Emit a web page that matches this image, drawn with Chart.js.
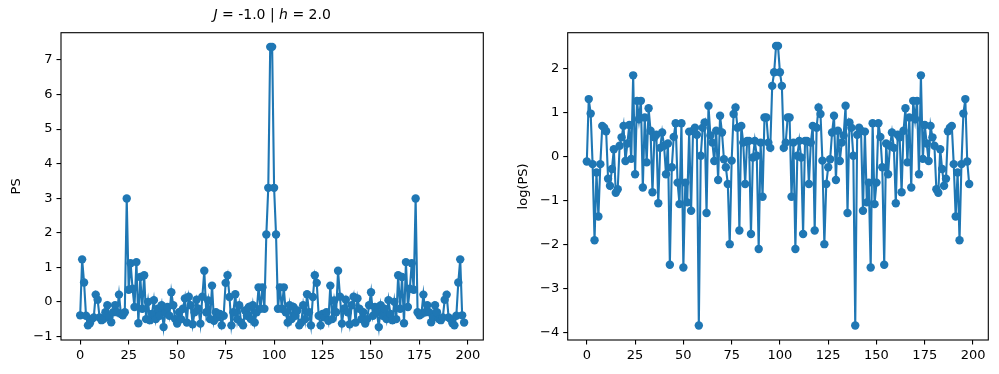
<!DOCTYPE html>
<html>
<head>
<meta charset="utf-8">
<script src="https://cdn.jsdelivr.net/npm/chart.js@4.4.0/dist/chart.umd.min.js"></script>
<style>
  html, body { margin: 0; padding: 0; background: #fff; }
  #wrap { position: relative; width: 999px; height: 374px; }
  canvas { position: absolute; top: 0; }
</style>
</head>
<body>
<div id="wrap">
  <canvas id="psChart" width="500" height="374" style="left:0px"></canvas>
  <canvas id="logChart" width="499" height="374" style="left:500px"></canvas>
</div>
<script>
const xTicks = [0, 25, 50, 75, 100, 125, 150, 175, 200];
const psTicks = [-1, 0, 1, 2, 3, 4, 5, 6, 7];
const logTicks = [-4, -3, -2, -1, 0, 1, 2];

// PS, index 0..198
const psValues = [
  -0.39, 1.23, 0.56, -0.4, -0.68, -0.62, -0.5, -0.45, 0.21, 0.06,
  -0.45, -0.53, -0.5, -0.3, -0.1, -0.45, -0.59, -0.3, -0.1, -0.3,
  0.21, -0.35, -0.39, -0.3, 2.99, 0.35, 1.12, 0.38, -0.15, 1.15,
  -0.62, 0.72, -0.2, 0.77, -0.5, 0.0, -0.53, -0.35, 0.05, -0.5,
  -0.2, -0.4, -0.1, -0.73, -0.3, -0.15, -0.4, 0.28, -0.1, -0.5,
  -0.63, -0.3, -0.5, -0.2, 0.1, -0.6, 0.15, -0.1, -0.65, -0.3,
  0.06, -0.2, -0.63, 0.15, 0.9, -0.3, 0.04, -0.5, 0.47, -0.55,
  -0.3, -0.45, -0.35, -0.68, -0.4, 0.55, 0.77, 0.14, -0.68, -0.3,
  0.22, -0.5, -0.1, -0.6, -0.68, -0.25, -0.4, -0.15, -0.5, -0.1,
  -0.6, -0.3, 0.42, -0.2, 0.42, -0.2, 1.95, 3.3, 7.38,
  7.38, 3.3, 1.95, -0.2, 0.42, -0.2, 0.42, -0.3, -0.6,
  -0.1, -0.5, -0.15, -0.4, -0.25, -0.68, -0.6, -0.1, -0.5, 0.22,
  -0.3, -0.68, 0.14, 0.77, 0.55, -0.4, -0.68, -0.35, -0.45, -0.3,
  -0.55, 0.47, -0.5, 0.04, -0.3, 0.9, 0.15, -0.63, -0.2, 0.06,
  -0.3, -0.65, -0.1, 0.15, -0.6, 0.1, -0.2, -0.5, -0.3, -0.63,
  -0.5, -0.1, 0.28, -0.4, -0.15, -0.3, -0.73, -0.1, -0.4, -0.2,
  -0.5, 0.05, -0.35, -0.53, 0.0, -0.5, 0.77, -0.2, 0.72, -0.62,
  1.15, -0.15, 0.38, 1.12, 0.35, 2.99, -0.3, -0.39, -0.35, 0.21,
  -0.3, -0.1, -0.3, -0.59, -0.45, -0.1, -0.3, -0.5, -0.53, -0.45,
  0.06, 0.21, -0.45, -0.5, -0.62, -0.68, -0.4, 0.56, 1.23, -0.39,
  -0.6
];

// log(PS), index 0..198
const logPsValues = [
  -0.11, 1.31, 0.98, -0.17, -1.9, -0.36, -1.36, -0.17, 0.7, 0.66,
  0.58, -0.5, -0.66, -0.28, 0.17, -0.82, -0.74, 0.25, 0.44, 0.7,
  -0.1, 0.3, 0.72, -0.05, 1.85, -0.4, 1.27, 0.85, 1.27, -0.7,
  0.89, -0.13, 1.1, 0.59, -0.81, 0.44, 0.5, -1.06, 0.2, 0.55,
  0.25, -0.4, 0.3, -2.46, -0.24, 0.45, 0.76, -0.59, -1.08, 0.76,
  -2.52, -0.59, -1.04, 0.57, -1.23, 0.59, 0.66, 0.5, -3.84, 0.02,
  0.66, 0.78, -1.28, 1.16, 0.48, 0.32, -0.1, 0.59, -0.53, 0.93,
  0.55, -0.06, -0.24, -0.62, -1.99, -0.09, 0.97, 1.12, 0.66, -1.68,
  0.7, 0.32, -0.62, 0.36, 0.36, -1.76, -0.02, 0.36, 0.02, -2.1,
  0.32, -0.91, 0.89, 0.89, 0.32, 0.2, 1.61, 1.92, 2.52,
  2.52, 1.92, 1.61, 0.2, 0.32, 0.89, 0.89, -0.91, 0.32,
  -2.1, 0.02, 0.36, -0.02, -1.76, 0.36, 0.36, -0.62, 0.32, 0.7,
  -1.68, 0.66, 1.12, 0.97, -0.09, -1.99, -0.62, -0.24, -0.06, 0.55,
  0.93, -0.53, 0.59, -0.1, 0.32, 0.48, 1.16, -1.28, 0.78, 0.66,
  0.02, -3.84, 0.5, 0.66, 0.59, -1.23, 0.57, -1.04, -0.59, -2.52,
  0.76, -1.08, -0.59, 0.76, 0.45, -0.24, -2.46, 0.3, -0.4, 0.25,
  0.55, 0.2, -1.06, 0.5, 0.44, -0.81, 0.59, 1.1, -0.13, 0.89,
  -0.7, 1.27, 0.85, 1.27, -0.4, 1.85, -0.05, 0.72, 0.3, -0.1,
  0.7, 0.44, 0.25, -0.74, -0.82, 0.17, -0.28, -0.66, -0.5, 0.58,
  0.66, 0.7, -0.17, -1.36, -0.36, -1.9, -0.17, 0.98, 1.31, -0.11,
  -0.62
];

const BLUE = '#1f77b4';
const FONT = 'DejaVu Sans';
const TICK_SIZE = 13;

function fmt(v) {
  return v < 0 ? '\u2212' + Math.abs(v) : String(v);
}

const framePlugin = {
  id: 'frame',
  afterDraw(chart) {
    const a = chart.chartArea;
    const ctx = chart.ctx;
    ctx.save();
    ctx.strokeStyle = '#000';
    ctx.lineWidth = 1.1;
    ctx.strokeRect(a.left, a.top, a.right - a.left, a.bottom - a.top);
    ctx.restore();
  }
};

// title "J = -1.0 | h = 2.0" with italic J and h
const titlePlugin = {
  id: 'mathTitle',
  afterDraw(chart) {
    if (chart.canvas.id !== 'psChart') return;
    const ctx = chart.ctx;
    const a = chart.chartArea;
    const parts = [
      ['J', true], [' = -1.0 | ', false], ['h', true], [' = 2.0', false]
    ];
    ctx.save();
    ctx.fillStyle = '#000';
    ctx.textBaseline = 'alphabetic';
    let total = 0;
    parts.forEach(p => {
      ctx.font = (p[1] ? 'italic ' : '') + '14px ' + FONT;
      total += ctx.measureText(p[0]).width;
    });
    let x = (a.left + a.right) / 2 - total / 2;
    parts.forEach(p => {
      ctx.font = (p[1] ? 'italic ' : '') + '14px ' + FONT;
      ctx.fillText(p[0], x, a.top - 14);
      x += ctx.measureText(p[0]).width;
    });
    ctx.restore();
  }
};

function makeChart(id, values, yTicks, yMin, yMax, yLabel, axisWidth, padRight, titlePad) {
  const points = values.map((v, i) => ({ x: i, y: v }));
  return new Chart(document.getElementById(id), {
    type: 'line',
    data: {
      datasets: [{
        data: points,
        borderColor: BLUE,
        backgroundColor: BLUE,
        borderWidth: 2.1,
        pointRadius: 4.2,
        pointHoverRadius: 4.2,
        pointBorderWidth: 0,
        pointBackgroundColor: BLUE,
        tension: 0
      }]
    },
    options: {
      responsive: false,
      animation: false,
      devicePixelRatio: 1,
      layout: { padding: { top: 32.7, right: padRight, left: 0, bottom: 0 } },
      plugins: { legend: { display: false }, tooltip: { enabled: false } },
      scales: {
        x: {
          type: 'linear',
          min: -9.9,
          max: 207.9,
          afterBuildTicks: (s) => { s.ticks = xTicks.map(v => ({ value: v })); },
          afterFit: (s) => { s.height = 34; },
          border: { display: false },
          grid: { drawOnChartArea: false, drawTicks: true, tickLength: 4.5, color: '#000', lineWidth: 1.1 },
          ticks: { color: '#000', font: { family: FONT, size: TICK_SIZE }, padding: 3, maxRotation: 0, callback: fmt }
        },
        y: {
          type: 'linear',
          min: yMin,
          max: yMax,
          afterBuildTicks: (s) => { s.ticks = yTicks.map(v => ({ value: v })); },
          afterFit: (s) => { s.width = axisWidth; },
          border: { display: false },
          grid: { drawOnChartArea: false, drawTicks: true, tickLength: 4.5, color: '#000', lineWidth: 1.1 },
          ticks: { color: '#000', font: { family: FONT, size: TICK_SIZE }, padding: 4, callback: fmt },
          title: { display: true, text: yLabel, color: '#000', font: { family: FONT, size: TICK_SIZE }, padding: { top: titlePad, bottom: 0 } }
        }
      }
    },
    plugins: [framePlugin, titlePlugin]
  });
}

makeChart('psChart', psValues, psTicks, -1.104, 7.79, 'PS', 61, 16.7, 9);
makeChart('logChart', logPsValues, logTicks, -4.17, 2.82, 'log(PS)', 67.7, 10.7, 16);
</script>
</body>
</html>
